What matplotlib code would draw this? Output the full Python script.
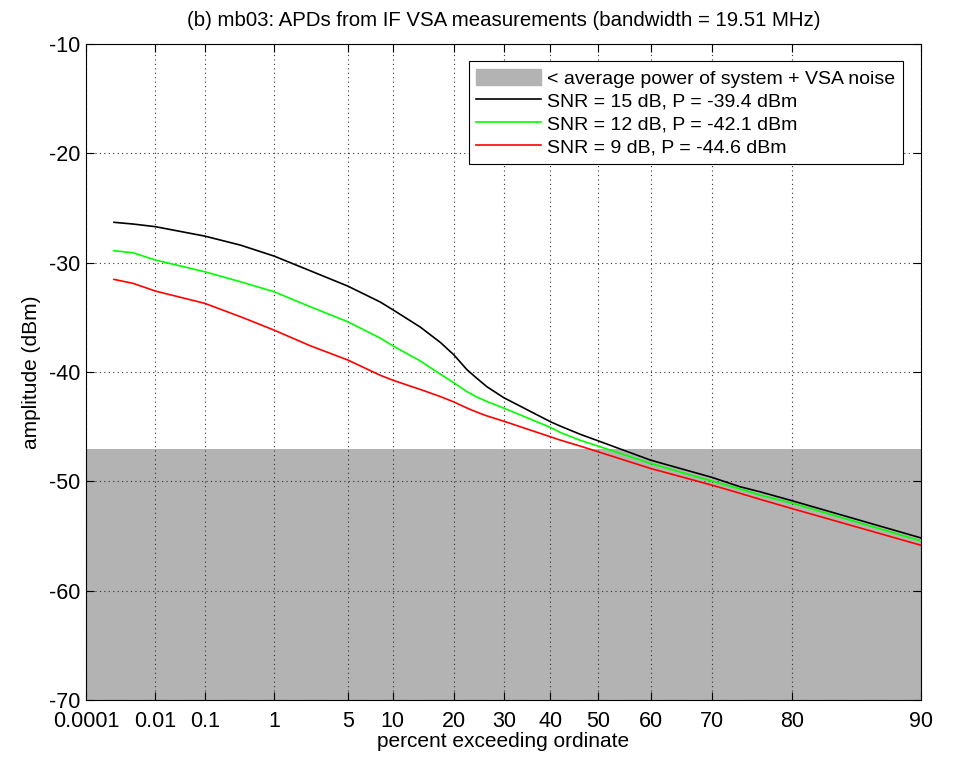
import numpy as np
import matplotlib
matplotlib.use("Agg")
import matplotlib.pyplot as plt
import matplotlib.patches as mpatches

plt.rcParams['font.family'] = ['Liberation Sans', 'DejaVu Sans']
plt.rcParams['axes.unicode_minus'] = False

# percent exceeding ordinate (shared by all three curves)
pct = [0.0008, 0.0028, 0.01, 0.1, 0.37, 1, 2.4, 5, 8.4, 10, 14.1, 17.5, 20,
       22.5, 24.5, 26.5, 30, 40, 42.1, 46.3, 50, 60, 70, 73.9, 76.4, 80, 90]

snr15 = [-26.31, -26.47, -26.71, -27.57, -28.4, -29.4, -30.74, -32.14, -33.6,
         -34.3, -35.9, -37.3, -38.45, -39.8, -40.6, -41.35, -42.35, -44.55,
         -44.95, -45.7, -46.3, -48.06, -49.64, -50.5, -50.96, -51.78, -55.17]
snr12 = [-28.91, -29.1, -29.76, -30.83, -31.75, -32.66, -34.03, -35.4, -36.9,
         -37.6, -39.0, -40.2, -41.0, -41.8, -42.3, -42.7, -43.3, -45.07,
         -45.53, -46.25, -46.78, -48.36, -49.98, -50.7, -51.26, -52.0, -55.44]
snr9 = [-31.53, -31.9, -32.6, -33.72, -34.95, -36.17, -37.6, -38.9, -40.3,
        -40.75, -41.6, -42.25, -42.75, -43.3, -43.68, -44.02, -44.5, -45.93,
        -46.23, -46.78, -47.3, -48.82, -50.35, -51.1, -51.65, -52.5, -55.84]

noise_level = -47.0

xticks = [0.0001, 0.01, 0.1, 1, 5, 10, 20, 30, 40, 50, 60, 70, 80, 90]
xticklabels = ['0.0001', '0.01', '0.1', '1', '5', '10', '20', '30', '40',
               '50', '60', '70', '80', '90']


# Rayleigh probability scale
def fwd(p):
    p = np.clip(np.asarray(p, dtype=float), 1e-12, 100 - 1e-9)
    return -np.log10(-np.log(p / 100.0))


def inv(u):
    return 100.0 * np.exp(-10.0 ** (-np.asarray(u, dtype=float)))


fig = plt.figure(figsize=(9.58, 7.57), dpi=100)
ax = fig.add_axes([0.0898, 0.0753, 0.8713, 0.8666])
ax.set_xscale('function', functions=(fwd, inv))

ax.axhspan(-70, noise_level, color='#b3b3b3', lw=0, zorder=1)
ax.plot(pct, snr15, color='black', lw=1.2, zorder=3)
ax.plot(pct, snr12, color='#00ff00', lw=1.2, zorder=3)
ax.plot(pct, snr9, color='red', lw=1.2, zorder=3)

ax.set_xlim(0.0001, 90)
ax.set_ylim(-70, -10)
ax.set_xticks(xticks)
ax.set_xticklabels(xticklabels)
ax.set_yticks(np.arange(-70, -9, 10))
ax.xaxis.set_minor_locator(matplotlib.ticker.NullLocator())
ax.tick_params(direction='in', top=True, right=True, labelsize=15.5,
               length=6, width=0.8)
ax.tick_params(axis='x', pad=8)
ax.tick_params(axis='y', pad=4)
ax.grid(True, linestyle=(0, (1, 3)), color='#333333', lw=0.8)
for s in ax.spines.values():
    s.set_linewidth(0.8)

ax.set_xlabel('percent exceeding ordinate', fontsize=15, labelpad=0)
ax.set_ylabel('amplitude (dBm)', fontsize=15, labelpad=6)
ax.set_title('(b) mb03: APDs from IF VSA measurements (bandwidth = 19.51 MHz)',
             fontsize=14.7, pad=13)

handles = [mpatches.Patch(color='#b3b3b3'),
           plt.Line2D([], [], color='black', lw=1.2),
           plt.Line2D([], [], color='#00ff00', lw=1.2),
           plt.Line2D([], [], color='red', lw=1.2)]
labels = ['< average power of system + VSA noise',
          'SNR = 15 dB, P = -39.4 dBm',
          'SNR = 12 dB, P = -42.1 dBm',
          'SNR = 9 dB, P = -44.6 dBm']
leg = ax.legend(handles, labels, loc='upper right', fontsize=14,
                fancybox=False, framealpha=1, edgecolor='black',
                handlelength=3.3, handleheight=0.9, borderaxespad=0.9,
                labelspacing=0.2, handletextpad=0.35, borderpad=0.4)
leg.get_frame().set_linewidth(0.8)

fig.savefig('out.png', dpi=100)
